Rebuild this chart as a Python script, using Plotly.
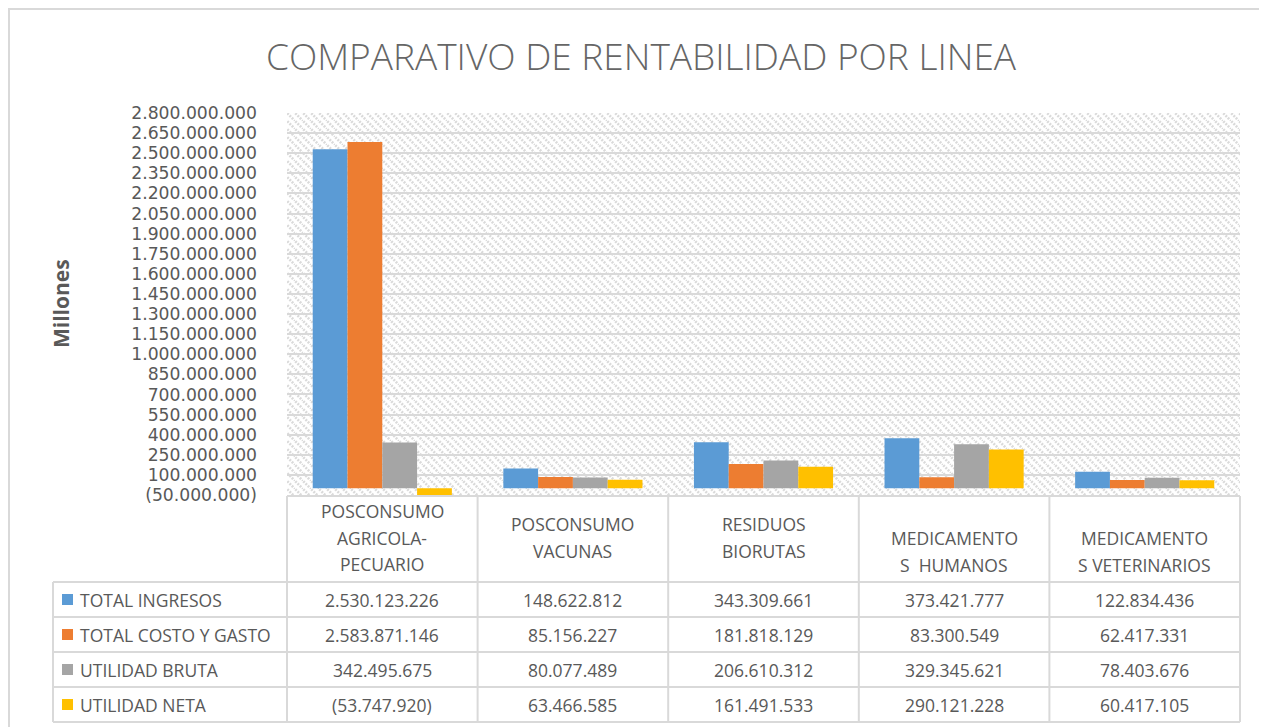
import base64
import plotly.graph_objects as go

# ---------------- data ----------------
categories = ["POSCONSUMO AGRICOLA-PECUARIO", "POSCONSUMO VACUNAS", "RESIDUOS BIORUTAS",
              "MEDICAMENTOS HUMANOS", "MEDICAMENTOS VETERINARIOS"]
header_lines = [["POSCONSUMO", "AGRICOLA-", "PECUARIO"],
                ["POSCONSUMO", "VACUNAS"],
                ["RESIDUOS", "BIORUTAS"],
                ["MEDICAMENTO", "S\u00a0 HUMANOS"],
                ["MEDICAMENTO", "S VETERINARIOS"]]
series_names = ["TOTAL INGRESOS", "TOTAL COSTO Y GASTO", "UTILIDAD BRUTA", "UTILIDAD NETA"]
total_ingresos = [2530123226, 148622812, 343309661, 373421777, 122834436]
total_costo_gasto = [2583871146, 85156227, 181818129, 83300549, 62417331]
utilidad_bruta = [342495675, 80077489, 206610312, 329345621, 78403676]
utilidad_neta = [-53747920, 63466585, 161491533, 290121228, 60417105]
series_values = [total_ingresos, total_costo_gasto, utilidad_bruta, utilidad_neta]
series_colors = ["#5B9BD5", "#ED7D31", "#A5A5A5", "#FFC000"]
tick_values = list(range(-50_000_000, 2_800_000_001, 150_000_000))
y_range = [-50_000_000, 2_800_000_000]

title_text = "COMPARATIVO DE RENTABILIDAD POR LINEA"
y_title = "Millones"


def fmt(v):
    s = f"{abs(v):,}".replace(",", ".")
    return f"({s})" if v < 0 else s


tick_text = [fmt(v) for v in tick_values]

# ---------------- layout geometry (page pixels; page body has 8px margin) ----------------
OX, OY = 8, 8
W, H = 1267 - OX, 727 - OY
PL, PR, PT, PB = 287, 1240, 113, 495
pw, ph = PR - PL, PB - PT


def xp(px):
    return (px - PL) / pw


def yp(py):
    return (PB - py) / ph


TEXT = "#595959"
GRID = "#d9d9d9"
FONT = "Open Sans"

fig = go.Figure()
for name, vals, col in zip(series_names, series_values, series_colors):
    fig.add_trace(go.Bar(x=categories, y=vals, name=name, marker=dict(color=col, line=dict(width=0)),
                         showlegend=False, hoverinfo="x+y+name"))

# hatched background of plot area (svg pattern)
svg = f'''<svg xmlns="http://www.w3.org/2000/svg" width="{pw}" height="{ph}" viewBox="0 0 {pw} {ph}" preserveAspectRatio="none">
<defs><pattern id="p" width="8" height="8" patternUnits="userSpaceOnUse">
<path d="M-2,-2 L10,10 M-2,6 L2,10 M6,-2 L10,2" stroke="#dadada" stroke-width="2.6" stroke-dasharray="2,1.2"/>
</pattern></defs><rect width="{pw}" height="{ph}" fill="url(#p)"/></svg>'''
uri = "data:image/svg+xml;base64," + base64.b64encode(svg.encode()).decode()

shapes = []
annotations = []

# outer chart border
shapes.append(dict(type="rect", xref="paper", yref="paper", x0=xp(9), x1=xp(1290), y0=yp(750), y1=yp(9),
                   line=dict(color=GRID, width=2), fillcolor="rgba(0,0,0,0)", layer="below"))

# data table
col_w = pw / len(categories)
row_top = [582, 617, 652, 687]
row_h = 35
tbl_top = 496
tbl_bot = row_top[-1] + row_h
line = dict(color=GRID, width=2)
shapes.append(dict(type="line", xref="paper", yref="paper", x0=xp(PL), x1=xp(PR), y0=yp(tbl_top), y1=yp(tbl_top), line=line))
for r in row_top + [tbl_bot]:
    shapes.append(dict(type="line", xref="paper", yref="paper", x0=xp(53), x1=xp(PR), y0=yp(r), y1=yp(r), line=line))
for i in range(len(categories) + 1):
    xx = PL + i * col_w
    shapes.append(dict(type="line", xref="paper", yref="paper", x0=xp(xx), x1=xp(xx), y0=yp(tbl_top), y1=yp(tbl_bot), line=line))
shapes.append(dict(type="line", xref="paper", yref="paper", x0=xp(53), x1=xp(53), y0=yp(row_top[0]), y1=yp(tbl_bot), line=line))

# header labels
header_start = [511, 524, 524, 538, 538]
line_step = 26.5
for i, lines in enumerate(header_lines):
    cx = PL + (i + 0.5) * col_w
    for j, t in enumerate(lines):
        annotations.append(dict(x=xp(cx), y=yp(header_start[i] + j * line_step), xref="paper", yref="paper",
                                text=t, showarrow=False, xanchor="center", yanchor="middle",
                                font=dict(family=FONT, size=17.5, color=TEXT)))

# rows
for r, (name, vals, col) in enumerate(zip(series_names, series_values, series_colors)):
    cy = row_top[r] + row_h / 2
    shapes.append(dict(type="rect", xref="paper", yref="paper", x0=xp(62), x1=xp(73), y0=yp(cy + 5.5), y1=yp(cy - 5.5),
                       fillcolor=col, line=dict(width=0)))
    annotations.append(dict(x=xp(78), y=yp(cy), xref="paper", yref="paper", text=name, showarrow=False,
                            xanchor="left", yanchor="middle", font=dict(family=FONT, size=17.5, color=TEXT)))
    for i, v in enumerate(vals):
        cx = PL + (i + 0.5) * col_w
        annotations.append(dict(x=xp(cx), y=yp(cy), xref="paper", yref="paper", text=fmt(v), showarrow=False,
                                xanchor="center", yanchor="middle", font=dict(family=FONT, size=17.5, color=TEXT)))

# y-axis title
annotations.append(dict(x=xp(61), y=yp(304), xref="paper", yref="paper", text=f"<b>{y_title}</b>", showarrow=False,
                        textangle=-90, xanchor="center", yanchor="middle", font=dict(family=FONT, size=21, color=TEXT)))

fig.update_layout(
    width=W, height=H,
    margin=dict(l=PL - OX, r=1267 - PR, t=PT - OY, b=727 - PB, pad=0),
    paper_bgcolor="white", plot_bgcolor="rgba(0,0,0,0)",
    barmode="group", bargap=0.27, bargroupgap=0,
    title=dict(text=title_text, x=(641 - OX) / W, xanchor="center", y=1 - (57 - OY) / H, yanchor="middle",
               xref="container", yref="container",
               font=dict(family=FONT, size=37, color="#666666", weight=300)),
    xaxis=dict(showticklabels=False, showgrid=False, zeroline=False, showline=False, ticks=""),
    yaxis=dict(range=y_range, tickvals=tick_values, ticktext=tick_text, showgrid=True, gridcolor=GRID,
               gridwidth=2, zeroline=False, showline=False, ticks="", ticklabelstandoff=29,
               tickfont=dict(family="DejaVu Sans", size=17.2, color=TEXT)),
    images=[dict(source=uri, xref="paper", yref="paper", x=0, y=1, sizex=1, sizey=1,
                 xanchor="left", yanchor="top", sizing="stretch", layer="below")],
    shapes=shapes, annotations=annotations,
)

fig.write_html("out.html")
